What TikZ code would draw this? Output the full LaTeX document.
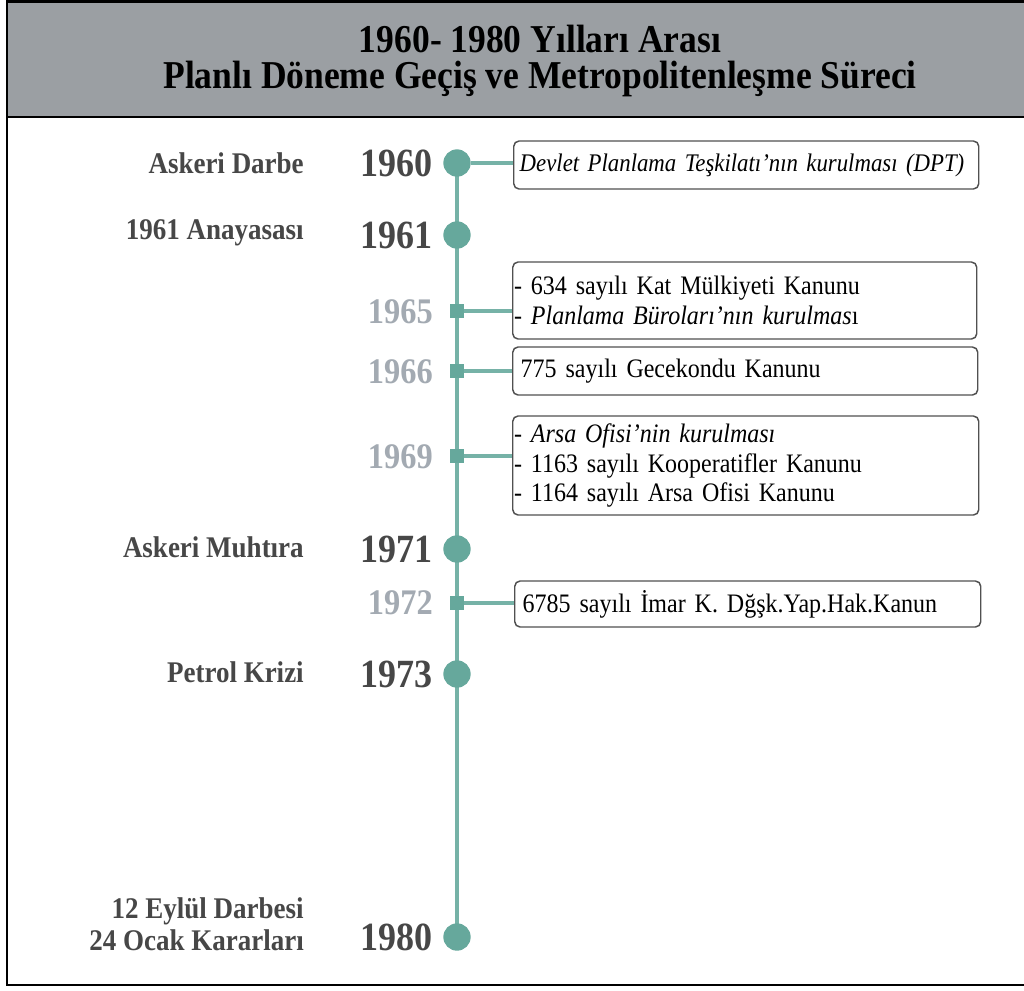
\documentclass[tikz,border=0pt]{standalone}
\usepackage{fontspec}
\setmainfont[FakeStretch=0.9]{Liberation Serif}

\definecolor{headgray}{HTML}{9B9FA3}
\definecolor{teal}{HTML}{66A89C}
\definecolor{tealline}{HTML}{76B2A7}
\definecolor{labelgray}{HTML}{474747}
\definecolor{yeargray}{HTML}{A3AAB2}
\definecolor{boxline}{HTML}{505050}

\tikzset{
  titletext/.style={font=\fontsize{29.6pt}{34pt}\selectfont\bfseries, inner sep=0pt},
  eventlabel/.style={anchor=east, font=\fontsize{22.5pt}{24pt}\selectfont\bfseries, text=labelgray, inner sep=0pt, align=right},
  bigyear/.style={anchor=east, font=\fontsize{30pt}{32pt}\selectfont\bfseries, text=labelgray, inner sep=0pt},
  smallyear/.style={anchor=east, font=\fontsize{27pt}{30pt}\selectfont\bfseries, text=yeargray, inner sep=0pt},
  bigdot/.style={circle, fill=teal, minimum size=20.5pt, inner sep=0pt},
  smalldot/.style={rectangle, fill=teal, minimum size=10.5pt, inner sep=0pt},
  infobox/.style={draw=boxline, line width=1.1pt, rounded corners=4pt, anchor=west, align=left,
    font=\fontsize{20pt}{22pt}\selectfont, inner ysep=0pt},
  link/.style={draw=tealline, line width=3pt},
  axis/.style={draw=tealline, line width=3.7pt},
}

\begin{document}
\begin{tikzpicture}[x=0.75pt, y=-0.75pt]
  \useasboundingbox (0,0) rectangle (1024,990);
  \clip (0,0) rectangle (1024,990);

  % frame and title band
  \fill[white] (0,0) rectangle (1024,990);
  \draw[line width=1.8pt, fill=headgray] (7,1.5) rectangle (1073,117);
  \draw[line width=1.8pt] (7,117) rectangle (1073,985);

  \node[titletext] (t1) at (540,39) {1960- 1980 Yılları Arası};
  \node[titletext] (t2) at (540,79) {Planlı Döneme Geçiş ve Metropolitenleşme Süreci};

  % year markers on the axis
  \coordinate (p1960) at (457,163);
  \coordinate (p1980) at (457,937);
  \draw[axis] (p1960) -- (p1980);

  \node[bigdot] (d1960) at (p1960) {};
  \node[bigdot] (d1961) at (457,235) {};
  \node[smalldot] (d1965) at (457,311) {};
  \node[smalldot] (d1966) at (457,371) {};
  \node[smalldot] (d1969) at (457,456) {};
  \node[bigdot] (d1971) at (457,549) {};
  \node[smalldot] (d1972) at (457,603) {};
  \node[bigdot] (d1973) at (457,674) {};
  \node[bigdot] (d1980) at (p1980) {};

  % years
  \node[bigyear] (y1960) at (433,163) {1960};
  \node[bigyear] (y1961) at (433,235) {1961};
  \node[smallyear] (y1965) at (433,312) {1965};
  \node[smallyear] (y1966) at (433,372) {1966};
  \node[smallyear] (y1969) at (433,457) {1969};
  \node[bigyear] (y1971) at (433,549) {1971};
  \node[smallyear] (y1972) at (433,603) {1972};
  \node[bigyear] (y1973) at (433,674) {1973};
  \node[bigyear] (y1980) at (433,937) {1980};

  % events on the left
  \node[eventlabel] (e1960) at (304,163) {Askeri Darbe};
  \node[eventlabel] (e1961) at (304,233) {1961 Anayasası};
  \node[eventlabel] (e1971) at (304,547) {Askeri Muhtıra};
  \node[eventlabel] (e1973) at (304,672) {Petrol Krizi};
  \node[eventlabel] (e1980) at (304,924) {12 Eylül Darbesi\\24 Ocak Kararları};

  % detail boxes on the right
  \node[infobox, font=\fontsize{19pt}{22pt}\selectfont, minimum width=348.75pt, minimum height=36pt, inner xsep=4.5pt, text width=339.75pt] (b1960) at (513,165)
    {\itshape Devlet Planlama Teşkilatı’nın kurulması (DPT)};
  \node[infobox, minimum width=348pt, minimum height=57.75pt, inner xsep=1pt, text width=346pt] (b1965) at (512,300.5)
    {- 634 sayılı Kat Mülkiyeti Kanunu\\- \textit{Planlama Büroları’nın kurulmas}ı};
  \node[infobox, minimum width=348.75pt, minimum height=36pt, inner xsep=6pt, text width=336.75pt] (b1966) at (512,371)
    {775 sayılı Gecekondu Kanunu};
  \node[infobox, minimum width=349.5pt, minimum height=74.25pt, inner xsep=1pt, text width=347.5pt] (b1969) at (512,465.5)
    {- \textit{Arsa Ofisi’nin kurulması}\\- 1163 sayılı Kooperatifler Kanunu\\- 1164 sayılı Arsa Ofisi Kanunu};
  \node[infobox, minimum width=349.5pt, minimum height=34.5pt, inner xsep=6pt, text width=337.5pt] (b1972) at (514,604)
    {6785 sayılı İmar K. Dğşk.Yap.Hak.Kanun};

  % links from the axis to the boxes
  \draw[link] (d1960) -- (d1960 -| b1960.west);
  \draw[link] (d1965) -- (d1965 -| b1965.west);
  \draw[link] (d1966) -- (d1966 -| b1966.west);
  \draw[link] (d1969) -- (d1969 -| b1969.west);
  \draw[link] (d1972) -- (d1972 -| b1972.west);
\end{tikzpicture}
\end{document}
